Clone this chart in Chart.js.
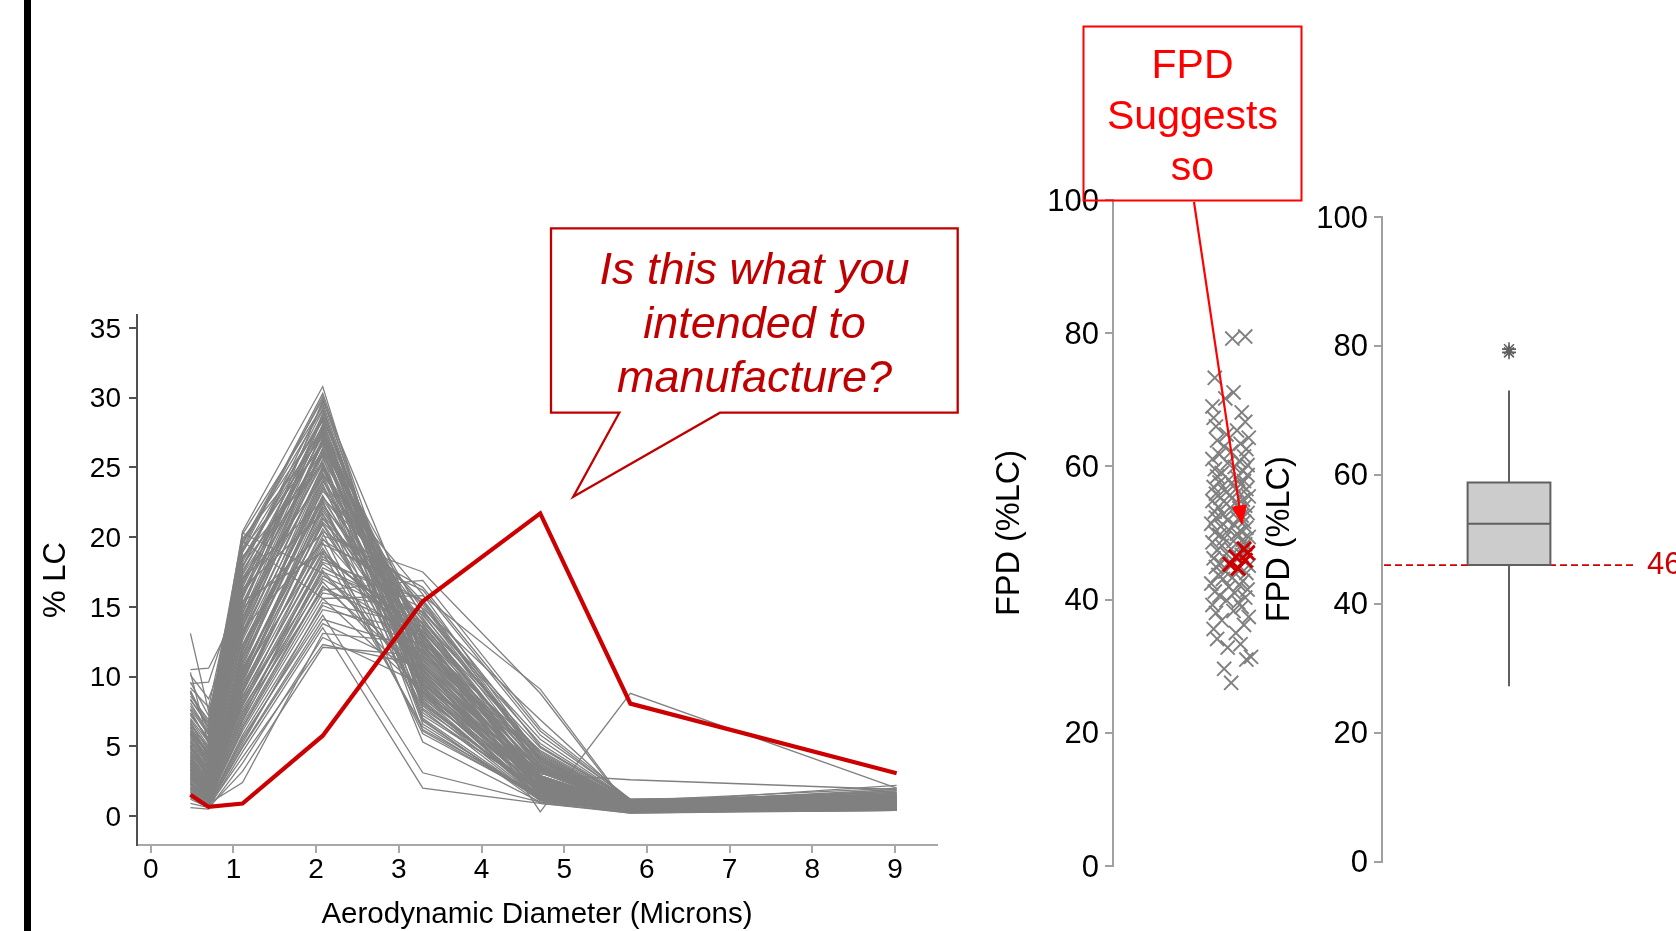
<!DOCTYPE html>
<html><head><meta charset="utf-8">
<script src="https://cdn.jsdelivr.net/npm/chart.js@4.4.0/dist/chart.umd.min.js"></script>
<style>
html,body{margin:0;padding:0;background:#fff;width:1676px;height:931px;overflow:hidden;font-family:"Liberation Sans",Arial,sans-serif;}
canvas{position:absolute;top:0;}
#c1{left:0px}
#c2{left:960px}
#c3{left:1240px}
#bar{position:absolute;left:24px;top:0;width:7px;height:931px;background:#000;}
svg{position:absolute;left:0;top:0;}
.txt{position:absolute;text-align:center;white-space:nowrap;}
#q{left:551px;top:242px;width:407px;font-size:45px;line-height:54px;font-style:italic;color:#C00000;}
#fpd{left:1083px;top:39px;width:219px;font-size:41px;line-height:51px;color:#FF0000;}
#v46{position:absolute;left:1647px;top:546px;font-size:31px;line-height:36px;color:#CC0000;}
</style></head><body>
<div id="bar"></div>
<canvas id="c1" width="960" height="931"></canvas>
<canvas id="c2" width="400" height="931"></canvas>
<canvas id="c3" width="436" height="931"></canvas>
<svg width="1676" height="931">
  <polygon points="551,228.3 957.7,228.3 957.7,412.7 720,412.7 573.3,496.7 619.3,412.7 551,412.7" fill="none" stroke="#C00000" stroke-width="2.3"/>
  <rect x="1083.5" y="26.5" width="218" height="174" fill="none" stroke="#FF0000" stroke-width="2"/>
  <line x1="1194" y1="202" x2="1239.3" y2="506.2" stroke="#FF0000" stroke-width="2.2"/>
  <polygon points="1242,524 1246.3,505.2 1232.4,507.2" fill="#FF0000" stroke="#FF0000" stroke-width="1"/>
</svg>
<div class="txt" id="q">Is this what you<br>intended to<br>manufacture?</div>
<div class="txt" id="fpd">FPD<br>Suggests<br>so</div>
<div id="v46">46</div>
<script>
// ---------- DATA ----------
const stageX = [0.48, 0.70, 1.11, 2.08, 3.29, 4.71, 5.80, 9.02];
const redProfile = [1.53, 0.65, 0.89, 5.76, 15.4, 21.7, 8.06, 3.07];
const grayProfiles = [
 [3.2,1.8,9.5,22.4,12.1,3.4,0.8,1.1],
 [5.1,2.6,14.2,26.8,10.5,2.1,0.6,0.9],
 [2.4,1.2,6.8,17.5,14.6,5.2,1.1,1.4],
 [6.8,4.1,17.9,29.6,8.7,1.6,0.5,0.7],
 [1.9,1.0,5.4,14.8,13.2,4.1,0.9,1.6],
 [4.4,3.0,12.6,24.1,9.8,2.7,0.7,1.0],
 [13.1,7.5,16.3,21.7,7.2,1.9,0.4,0.6],
 [2.8,1.5,8.1,19.8,15.3,3.8,1.0,1.3],
 [7.6,5.2,19.8,28.3,9.1,1.4,0.3,0.5],
 [3.6,2.2,10.7,23.5,11.4,2.9,0.8,1.2],
 [10.5,10.6,15.4,18.9,6.4,1.2,0.5,0.8],
 [1.4,0.7,4.2,12.3,10.8,3.1,0.7,1.8],
 [5.8,3.7,13.5,25.6,12.9,2.4,0.6,0.9],
 [2.1,1.3,7.4,16.2,16.9,6.3,1.2,1.5],
 [8.9,6.1,20.4,30.8,7.6,1.1,0.3,0.4],
 [4.0,2.5,11.2,22.9,13.7,3.6,0.9,1.1],
 [3.0,1.6,8.8,20.6,10.2,2.2,0.5,0.7],
 [6.2,4.4,16.1,27.4,11.8,2.0,0.4,0.6],
 [1.7,0.9,2.4,13.1,12.4,4.7,1.1,1.7],
 [9.6,7.2,18.6,25.2,6.1,1.3,0.4,0.5],
 [2.6,1.4,9.1,21.3,14.1,4.5,1.0,1.2],
 [4.8,3.3,14.8,28.9,10.9,1.8,0.5,0.8],
 [3.4,1.9,10.1,19.2,8.4,2.5,0.6,0.9],
 [7.2,5.6,17.3,26.2,8.2,1.5,0.4,0.6],
 [2.2,1.1,6.1,15.6,15.8,9.1,0.5,0.7],
 [5.5,3.9,15.7,29.8,12.6,2.3,0.6,0.8],
 [0.6,0.5,3.8,12.8,9.4,3.3,0.9,2.2],
 [4.2,2.8,12.0,24.8,14.8,3.9,0.8,1.0],
 [3.8,2.0,11.6,23.0,9.6,2.6,0.7,1.3],
 [6.5,4.9,19.2,30.3,9.9,1.7,0.4,0.5],
 [2.9,1.7,7.9,18.1,12.8,3.5,0.9,1.4],
 [8.3,6.6,18.5,27.9,7.9,1.2,0.3,0.4],
 [1.6,0.8,5.0,14.1,11.9,3.0,2.6,1.9],
 [5.0,3.5,13.9,26.4,13.4,2.8,0.7,0.9],
 [3.3,2.1,9.8,21.9,11.0,2.4,0.6,1.0],
 [9.5,9.6,17.0,22.6,5.3,1.0,0.4,0.6],
 [2.5,1.2,8.4,17.2,13.9,4.9,1.1,1.5],
 [4.6,2.9,12.9,25.1,10.3,2.2,0.5,0.8],
 [6.0,4.6,16.7,28.6,11.3,1.9,0.5,0.7],
 [1.2,0.6,4.6,13.5,2.0,0.9,0.2,0.4],
 [3.9,2.4,10.9,24.4,15.9,4.2,1.0,1.2],
 [7.9,5.9,19.5,29.2,8.9,1.3,0.3,0.5],
 [2.0,1.0,6.6,16.5,10.1,2.9,0.8,1.6],
 [5.3,3.6,14.5,27.1,14.2,2.6,0.6,0.8],
 [3.1,1.7,9.3,20.1,17.5,8.8,0.4,0.6],
 [4.3,2.7,11.9,23.8,8.0,1.7,0.5,0.7],
 [6.9,5.0,17.6,26.9,6.8,1.1,0.3,0.5],
 [2.7,1.5,8.6,18.8,13.0,0.3,8.8,2.0],
 [1.8,0.9,5.8,15.1,12.2,3.7,1.0,1.8],
 [5.7,4.0,15.1,28.1,12.3,2.1,0.5,0.7],
 [3.5,2.3,10.4,22.1,10.7,2.7,0.7,1.1],
 [8.6,6.9,20.2,29.4,6.9,0.9,0.3,0.4],
 [2.3,1.3,7.2,17.8,14.4,4.4,1.0,1.3],
 [4.9,3.1,13.2,25.9,11.6,2.5,0.6,0.9],
 [10.1,8.4,14.9,20.3,5.9,1.4,0.5,0.6],
 [3.7,2.2,11.3,24.6,12.5,3.2,0.8,1.0],
 [0.9,0.6,3.2,12.1,11.5,4.3,1.1,2.0],
 [6.4,4.3,16.9,27.7,9.3,1.6,0.4,0.6],
 [2.6,1.6,8.9,19.5,16.2,5.8,1.2,1.4],
 [4.5,3.2,13.7,26.1,10.0,2.0,0.5,0.8],
 [7.4,5.4,18.2,28.7,10.4,1.5,0.4,0.5],
 [3.0,1.8,9.7,21.1,13.5,3.7,0.9,1.1],
 [5.9,4.2,15.9,24.3,7.4,1.8,0.5,0.7],
 [2.4,1.4,7.7,16.8,8.9,2.6,0.7,1.5],
 [9.0,6.3,19.9,27.2,8.5,1.2,0.3,0.5],
 [4.1,2.6,12.3,23.3,15.1,4.0,0.9,1.0],
 [1.5,0.8,5.6,14.4,3.1,1.0,0.2,0.5],
 [3.6,2.0,10.0,22.7,12.0,2.8,0.7,0.9],
 [6.7,4.8,17.1,25.4,9.0,1.9,0.5,0.7],
 [2.9,1.6,8.2,18.4,14.9,6.9,1.0,1.2],
 [5.2,3.4,14.0,27.0,12.7,2.3,0.6,0.8],
 [3.3,2.1,10.6,20.9,9.2,2.3,0.6,1.0],
 [4.7,3.0,13.1,26.3,11.1,2.4,0.6,0.9],
 [2.3,1.1,7.0,18.6,13.3,4.0,0.9,1.3],
 [6.1,4.5,16.4,27.8,10.6,1.8,0.5,0.7],
 [3.4,2.0,10.3,21.6,12.9,3.1,0.8,1.0],
 [8.1,6.0,18.9,28.4,8.3,1.4,0.4,0.5],
 [1.9,1.0,6.3,16.0,14.7,5.5,1.1,1.5],
 [5.4,3.8,14.6,25.3,9.5,2.2,0.6,0.8],
 [2.8,1.6,9.0,20.4,16.4,6.1,1.1,1.3],
 [7.0,5.3,17.8,29.1,10.1,1.6,0.4,0.6],
 [4.2,2.5,12.2,22.5,7.7,1.9,0.5,0.8],
 [3.1,1.8,9.4,19.9,11.7,3.4,0.8,1.2],
 [9.2,7.8,19.1,26.6,7.0,1.2,0.4,0.5],
 [2.1,1.2,6.9,17.0,12.6,3.9,1.0,1.7],
 [5.6,4.1,15.3,26.7,13.1,2.5,0.6,0.8],
 [3.8,2.4,11.5,24.0,14.5,3.6,0.9,1.1],
 [6.6,4.7,17.4,28.0,9.6,1.7,0.4,0.6],
 [1.3,0.7,4.9,13.8,10.4,3.4,0.9,1.9],
 [4.4,2.9,12.8,25.0,12.2,2.7,0.7,0.9],
 [7.7,5.8,19.0,30.1,8.8,1.3,0.3,0.5],
 [2.6,1.5,8.0,18.2,15.5,5.0,1.1,1.4],
 [5.0,3.4,14.3,24.5,8.6,2.0,0.5,0.8],
 [3.5,2.1,10.2,22.2,13.8,3.3,0.8,1.0],
 [8.4,6.4,18.0,25.8,6.6,1.3,0.4,0.6],
 [1.7,0.9,5.2,15.3,13.6,4.6,1.0,1.6],
 [4.9,3.3,13.6,26.9,11.9,2.3,0.6,0.8],
 [3.2,1.9,9.9,21.0,10.5,2.8,0.7,1.1],
 [6.3,4.6,16.6,27.3,12.4,1.9,0.5,0.7],
 [2.4,1.3,7.5,17.6,9.7,2.7,0.7,1.4],
 [10.3,5.1,13.4,19.6,6.2,1.5,0.5,0.7],
 [4.0,2.6,11.8,23.6,14.0,3.5,0.8,1.0],
 [5.9,4.0,15.6,28.5,11.5,2.1,0.5,0.7],
 [2.0,1.1,6.4,16.4,12.9,4.2,1.0,1.5],
 [7.3,5.5,18.4,27.5,8.1,1.4,0.3,0.5],
 [3.7,2.3,11.0,22.8,15.4,4.1,0.9,1.1],
 [4.6,3.1,13.0,24.9,9.4,2.2,0.6,0.9],
 [2.7,1.4,8.5,19.0,12.3,3.2,0.8,1.3],
 [6.0,4.4,16.0,26.0,10.8,1.9,0.5,0.7],
 [8.8,6.7,19.6,29.9,9.2,1.2,0.3,0.4],
 [3.3,2.0,10.5,21.4,11.2,2.9,0.7,1.0],
 [5.3,3.7,14.9,27.6,13.0,2.4,0.6,0.8],
 [3.9,2.2,20.3,17.4,9.8,2.5,0.6,0.9],
 [6.4,3.5,19.7,15.6,8.9,2.1,0.5,0.8]
];
const leftYTicks = [0,5,10,15,20,25,30,35];
const leftXTicks = [0,1,2,3,4,5,6,7,8,9];

const fpdValues = [
 27.5,29.6,31.0,31.4,32.8,33.3,34.1,35.0,35.6,36.2,36.9,37.4,38.0,38.3,38.9,39.2,39.6,39.9,
 40.3,40.6,41.0,41.2,41.5,41.9,42.2,42.4,42.8,43.1,43.3,43.7,44.0,44.2,44.6,44.9,45.1,45.4,45.7,45.9,
 46.2,46.4,46.7,46.9,47.1,47.4,47.6,47.9,48.1,48.3,48.6,48.8,49.0,49.2,49.4,49.7,49.9,50.1,50.3,50.5,50.8,51.0,51.2,51.4,51.7,51.9,52.1,52.3,
 52.6,52.8,53.0,53.2,53.5,53.7,53.9,54.1,54.4,54.6,54.8,55.0,55.3,55.5,55.7,55.9,56.2,56.4,56.6,56.9,57.1,57.3,57.6,57.8,58.0,58.3,58.5,58.7,
 59.0,59.3,59.6,59.9,60.2,60.5,60.8,61.1,61.5,61.8,62.2,62.6,63.0,63.4,63.9,64.3,64.8,65.4,66.0,66.7,67.3,68.1,69.0,70.2,71.1,73.3,
 79.2,79.5
];
const fpdJitter = [
 0.01,-0.05,0.14,0.18,-0.02,0.09,-0.11,0.05,-0.14,0.12,-0.07,0.16,-0.12,0.03,0.10,-0.15,0.07,-0.03,
 0.13,-0.09,0.04,-0.13,0.15,-0.01,0.08,-0.16,0.11,-0.06,0.02,-0.10,0.14,-0.04,0.06,-0.12,0.16,-0.08,0.00,0.12,
 -0.14,0.05,0.10,-0.03,0.15,-0.11,0.01,0.08,-0.07,0.13,-0.15,0.03,0.11,-0.05,0.16,-0.09,0.06,-0.13,0.09,-0.01,0.14,-0.08,0.04,-0.16,0.12,-0.02,0.07,-0.12,
 0.10,-0.06,0.15,-0.13,0.02,0.08,-0.10,0.13,-0.03,0.05,-0.15,0.11,-0.08,0.16,0.00,-0.12,0.07,-0.05,0.14,-0.14,0.03,0.09,-0.09,0.12,-0.01,0.06,-0.11,0.15,
 -0.07,0.11,-0.13,0.04,0.15,-0.02,0.08,-0.15,0.12,-0.09,0.01,0.14,-0.05,0.09,-0.11,0.16,-0.03,0.06,-0.12,0.13,-0.14,0.10,-0.15,-0.04,0.03,-0.13,
 0.02,0.13
];
const redFpdValues = [47.6, 47.0, 46.4, 45.9, 45.3, 44.7];
const redFpdJitter = [0.12, 0.15, 0.05, 0.13, 0.00, 0.07];
const fpdTicks = [0,20,40,60,80,100];

const boxQ1 = 46.0, boxMedian = 52.4, boxQ3 = 58.8;
const whiskerLow = 27.2, whiskerHigh = 73.1;
const boxOutliers = [79.0, 79.5];
const specLimit = 46;

// ---------- STYLE / LAYOUT ----------
const F = '"Liberation Sans", Arial, sans-serif';
Chart.defaults.font.family = F;
Chart.defaults.animation = false;
const noPlugins = {legend:{display:false}, tooltip:{enabled:false}};

// Chart 1: particle size distribution
const ds1 = [{
  data: stageX.map((x,i)=>({x, y: redProfile[i]})),
  borderColor:'#CC0000', borderWidth:4.2, pointRadius:0, tension:0
}];
grayProfiles.forEach(p => ds1.push({
  data: stageX.map((x,i)=>({x, y: p[i]})),
  borderColor:'#808080', borderWidth:1.3, pointRadius:0, tension:0
}));

new Chart(document.getElementById('c1'), {
  type:'line',
  data:{datasets: ds1},
  options:{
    responsive:false, devicePixelRatio:1,
    layout:{padding:{left:0, top:315, right:23, bottom:0}},
    plugins: noPlugins,
    scales:{
      x:{type:'linear', min:-0.166, max:9.508,
        afterBuildTicks(s){ s.ticks = leftXTicks.map(v=>({value:v})); },
        ticks:{color:'#000', font:{size:28, lineHeight:1}, padding:3.5, maxRotation:0, autoSkip:false},
        grid:{drawOnChartArea:false, drawTicks:true, tickLength:8, color:'#A8A8A8', lineWidth:2},
        border:{display:true, color:'#A8A8A8', width:2},
        title:{display:true, text:'Aerodynamic Diameter (Microns)', color:'#000', font:{size:29.5, lineHeight:1.1}, padding:{top:0, bottom:0}},
        afterFit(s){ s.height = 86; }
      },
      y:{type:'linear', min:-2.08, max:35.93,
        afterBuildTicks(s){ s.ticks = leftYTicks.map(v=>({value:v})); },
        ticks:{color:'#000', font:{size:28, lineHeight:1}, padding:8, labelOffset:2},
        grid:{drawOnChartArea:false, drawTicks:true, tickLength:8, color:'#505050', lineWidth:2},
        border:{display:true, color:'#505050', width:2},
        title:{display:true, text:'% LC', color:'#000', font:{size:31, lineHeight:1.2}, padding:{top:38.1, bottom:0}},
        afterFit(s){ s.width = 137; }
      }
    }
  }
});

// Chart 2: FPD individual values
const grayPts = fpdValues.map((v,i)=>({x: fpdJitter[i], y: v}));
const redPts = redFpdValues.map((v,i)=>({x: redFpdJitter[i], y: v}));
new Chart(document.getElementById('c2'), {
  type:'scatter',
  data:{datasets:[
    {data: redPts, pointStyle:'crossRot', pointRadius:10, borderColor:'#CC0000', backgroundColor:'#CC0000', pointBorderWidth:3},
    {data: grayPts, pointStyle:'crossRot', pointRadius:10, borderColor:'#808080', backgroundColor:'#808080', pointBorderWidth:1.9}
  ]},
  options:{
    responsive:false, devicePixelRatio:1,
    layout:{padding:{left:0, top:200, right:7, bottom:65}},
    plugins: noPlugins,
    scales:{
      x:{type:'linear', min:-1, max:1, display:false},
      y:{type:'linear', min:0, max:100,
        afterBuildTicks(s){ s.ticks = fpdTicks.map(v=>({value:v})); },
        ticks:{color:'#000', font:{size:31, lineHeight:1}, padding:6, labelOffset:2},
        grid:{drawOnChartArea:false, drawTicks:true, tickLength:8, color:'#A0A0A0', lineWidth:2},
        border:{display:true, color:'#A0A0A0', width:2},
        title:{display:true, text:'FPD (%LC)', color:'#000', font:{size:32.5, lineHeight:1.2}, padding:{top:30.5, bottom:0}},
        afterFit(s){ s.width = 153; }
      }
    }
  }
});

// Chart 3: box plot
const bL = 0.337, bR = 0.663, bC = 0.5;
const edge = '#606060';
new Chart(document.getElementById('c3'), {
  type:'scatter',
  data:{datasets:[
    {data: boxOutliers.map(v=>({x:bC, y:v})), pointStyle:'star', pointRadius:7, borderColor:edge, pointBorderWidth:1.6, showLine:false},
    {data:[{x:bL,y:boxMedian},{x:bR,y:boxMedian}], showLine:true, borderColor:edge, borderWidth:2, pointRadius:0},
    {data:[{x:bL,y:boxQ1},{x:bR,y:boxQ1},{x:bR,y:boxQ3},{x:bL,y:boxQ3},{x:bL,y:boxQ1}], showLine:true, borderColor:edge, borderWidth:2, pointRadius:0},
    {data:[{x:bC,y:boxQ3},{x:bC,y:whiskerHigh}], showLine:true, borderColor:edge, borderWidth:2, pointRadius:0},
    {data:[{x:bC,y:boxQ1},{x:bC,y:whiskerLow}], showLine:true, borderColor:edge, borderWidth:2, pointRadius:0},
    {data:[{x:bL,y:boxQ3},{x:bR,y:boxQ3}], showLine:true, borderWidth:0, borderColor:'rgba(0,0,0,0)', pointRadius:0, fill:{value:boxQ1}, backgroundColor:'#CCCCCC'},
    {data:[{x:0.008,y:specLimit},{x:1,y:specLimit}], showLine:true, borderColor:'#D00000', borderWidth:1.6, borderDash:[7,4], pointRadius:0}
  ]},
  options:{
    responsive:false, devicePixelRatio:1,
    layout:{padding:{left:0, top:217, right:40, bottom:69.4}},
    plugins: noPlugins,
    scales:{
      x:{type:'linear', min:0, max:1, display:false},
      y:{type:'linear', min:0, max:100,
        afterBuildTicks(s){ s.ticks = fpdTicks.map(v=>({value:v})); },
        ticks:{color:'#000', font:{size:31, lineHeight:1}, padding:6, labelOffset:2},
        grid:{drawOnChartArea:false, drawTicks:true, tickLength:8, color:'#A0A0A0', lineWidth:2},
        border:{display:true, color:'#A0A0A0', width:2},
        title:{display:true, text:'FPD (%LC)', color:'#000', font:{size:32.5, lineHeight:1.2}, padding:{top:20.5, bottom:0}},
        afterFit(s){ s.width = 142; }
      }
    }
  }
});
</script>
</body></html>
